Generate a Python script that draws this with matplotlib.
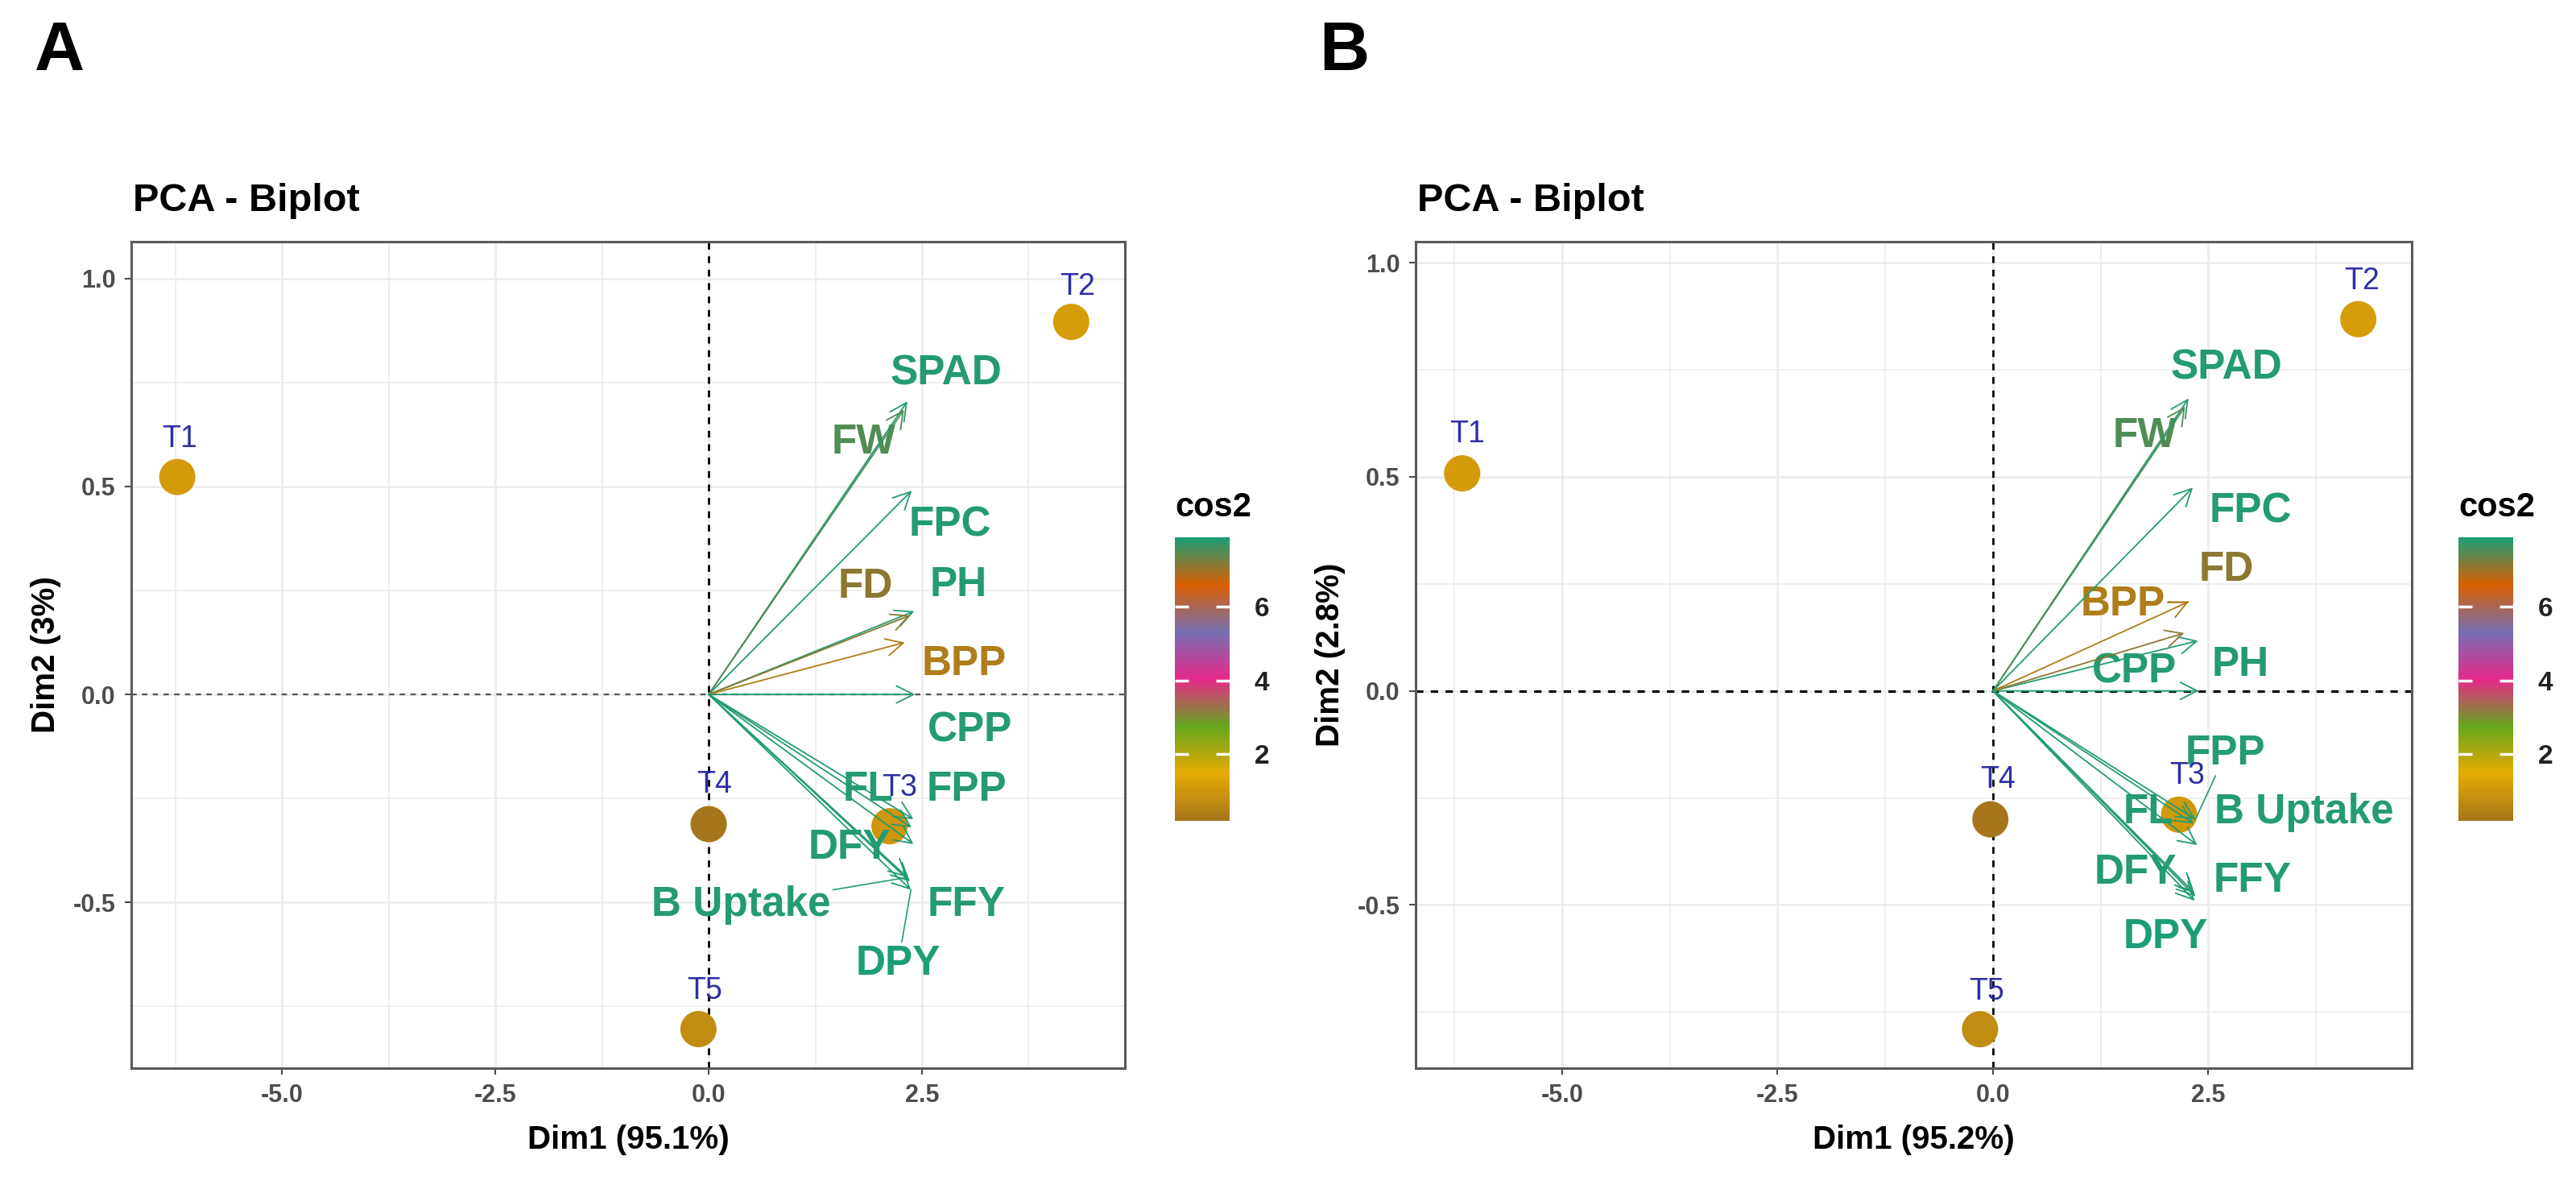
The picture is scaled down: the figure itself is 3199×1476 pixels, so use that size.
import numpy as np
import matplotlib
matplotlib.use('Agg')
import matplotlib.pyplot as plt
from matplotlib.colors import LinearSegmentedColormap, Normalize
from matplotlib.cm import ScalarMappable
from matplotlib.ticker import MultipleLocator

plt.rcParams['font.family'] = ['Liberation Sans', 'DejaVu Sans']

W, H = 3199, 1476

ind_names = ['T1', 'T2', 'T3', 'T4', 'T5']
var_names = ['SPAD', 'FW', 'FPC', 'PH', 'FD', 'BPP', 'CPP',
             'FPP', 'FL', 'DFY', 'FFY', 'B Uptake', 'DPY']

# ---- panel A ----
ind_x_a = [-6.23, 4.25, 2.12, 0.0, -0.12]
ind_y_a = [0.523, 0.896, -0.317, -0.312, -0.805]
ind_cos2_a = [1.1, 1.15, 1.0, 0.2, 0.75]
ind_lx_a = [-6.20, 4.32, 2.24, 0.07, -0.05]
ind_ly_a = [0.615, 0.98, -0.225, -0.217, -0.713]

var_x_a = [2.33, 2.29, 2.38, 2.41, 2.36, 2.30, 2.42, 2.40, 2.38, 2.40, 2.36, 2.33, 2.37]
var_y_a = [0.705, 0.685, 0.49, 0.20, 0.19, 0.125, 0.0, -0.30, -0.32, -0.36, -0.45, -0.44, -0.47]
var_cos2_a = [7.8, 7.5, 7.8, 7.8, 7.12, 0.4, 7.8, 7.8, 7.8, 7.8, 7.8, 7.8, 7.87]
lab_x_a = [2.78, 1.82, 2.83, 2.93, 1.84, 2.99, 3.06, 3.02, 1.87, 1.65, 3.02, 0.38, 2.22]
lab_y_a = [0.772, 0.606, 0.407, 0.262, 0.259, 0.073, -0.088, -0.23, -0.23, -0.37, -0.507, -0.507, -0.648]
seg_a = ['B Uptake', 'DPY']

# ---- panel B ----
ind_x_b = [-6.16, 4.24, 2.16, -0.03, -0.15]
ind_y_b = [0.508, 0.868, -0.289, -0.30, -0.79]
ind_cos2_b = [1.1, 1.15, 1.05, 0.2, 0.75]
ind_lx_b = [-6.10, 4.28, 2.25, 0.06, -0.07]
ind_ly_b = [0.60, 0.957, -0.198, -0.207, -0.702]

var_x_b = [2.27, 2.23, 2.32, 2.38, 2.22, 2.27, 2.39, 2.35, 2.33, 2.33, 2.35, 2.37, 2.34]
var_y_b = [0.683, 0.664, 0.475, 0.117, 0.135, 0.208, 0.0, -0.30, -0.31, -0.47, -0.48, -0.36, -0.49]
var_cos2_b = [7.8, 7.5, 7.8, 7.8, 7.12, 0.4, 7.8, 7.8, 7.8, 7.8, 7.8, 7.8, 7.87]
lab_x_b = [2.71, 1.76, 2.99, 2.87, 2.71, 1.51, 1.64, 2.70, 1.80, 1.65, 3.01, 3.61, 2.00]
lab_y_b = [0.753, 0.594, 0.419, 0.06, 0.283, 0.202, 0.045, -0.147, -0.283, -0.425, -0.443, -0.283, -0.575]
seg_b = ['BPP', 'FPP', 'DFY']

palette = ['#A6761D', '#E6AB02', '#66A61E', '#E7298A', '#7570B3', '#D95F02', '#1B9E77']
cmap = LinearSegmentedColormap.from_list('dark2r', palette)


def px_rect(l, t, r, b):
    return [l / W, 1 - b / H, (r - l) / W, (b - t) / H]


def draw_panel(fig, letter, axbox, cbox, xlim, ylim, hdash,
               ind_x, ind_y, ind_cos2, ind_lx, ind_ly,
               var_x, var_y, var_cos2, lab_x, lab_y, segs,
               xlab, ylab):
    ax = fig.add_axes(px_rect(*axbox))
    ax.set_xlim(xlim)
    ax.set_ylim(ylim)
    ax.xaxis.set_major_locator(MultipleLocator(2.5))
    ax.xaxis.set_minor_locator(MultipleLocator(1.25))
    ax.yaxis.set_major_locator(MultipleLocator(0.5))
    ax.yaxis.set_minor_locator(MultipleLocator(0.25))
    ax.grid(which='major', color='#EBEBEB', lw=1.8)
    ax.grid(which='minor', color='#EBEBEB', lw=1.1)
    ax.set_axisbelow(True)
    for s in ax.spines.values():
        s.set_color('#5A5A5A')
        s.set_linewidth(2.2)
    ax.tick_params(which='major', length=6, width=1.5, color='#4D4D4D',
                   labelsize=22, labelcolor='#4D4D4D', pad=8)
    ax.tick_params(which='minor', length=0)
    ax.xaxis.set_major_formatter(lambda v, p: f'{v:.1f}')
    ax.yaxis.set_major_formatter(lambda v, p: f'{v:.1f}')
    for t in ax.get_xticklabels() + ax.get_yticklabels():
        t.set_fontweight('bold')

    ax.axvline(0, color='black', lw=2, ls=(0, (3, 3)), zorder=1.5)
    ax.axhline(0, color=hdash[0], lw=hdash[1], ls=(0, (3, 3)), zorder=1.5)

    allc = list(ind_cos2) + list(var_cos2)
    norm = Normalize(min(allc), max(allc))

    ax.scatter(ind_x, ind_y, s=1050, c=ind_cos2, cmap=cmap, norm=norm,
               edgecolors='none', zorder=3)
    for name, lx, ly in zip(ind_names, ind_lx, ind_ly):
        ax.text(lx, ly, name, color='#2E2EA8', fontsize=27,
                ha='center', va='center', zorder=7)

    for name, vx, vy, c2, lx, ly in zip(var_names, var_x, var_y, var_cos2, lab_x, lab_y):
        col = cmap(norm(c2))
        ax.annotate('', xy=(vx, vy), xytext=(0, 0),
                    arrowprops=dict(arrowstyle='->', color=col, lw=1.3,
                                    mutation_scale=38, shrinkA=0, shrinkB=0),
                    zorder=5)
        if name in segs:
            ax.annotate(name, xy=(vx, vy), xytext=(lx, ly), color=col,
                        fontsize=37, fontweight='bold', ha='center', va='center',
                        arrowprops=dict(arrowstyle='-', color=col, lw=1.2,
                                        shrinkA=0, shrinkB=0), zorder=4)
        else:
            ax.text(lx, ly, name, color=col, fontsize=37, fontweight='bold',
                    ha='center', va='center', zorder=4)

    l, t, r, b = axbox
    fig.text((l - 120) / W, 1 - 65 / H, letter, fontsize=62, fontweight='bold',
             ha='left', va='center')
    fig.text((l + 2) / W, 1 - 249 / H, 'PCA - Biplot', fontsize=35,
             fontweight='bold', ha='left', va='center')
    fig.text((l + r) / 2 / W, 1 - 1415 / H, xlab, fontsize=29,
             fontweight='bold', ha='center', va='center')
    fig.text((l - 106) / W, 1 - (t + b) / 2 / H, ylab, fontsize=29,
             fontweight='bold', ha='center', va='center', rotation=90)

    cax = fig.add_axes(px_rect(*cbox))
    cb = fig.colorbar(ScalarMappable(norm=norm, cmap=cmap), cax=cax, ticks=[2, 4, 6])
    cb.outline.set_visible(False)
    cax.tick_params(which='both', direction='in', color='white', length=12,
                    width=2.5, left=True, right=True, labelsize=24, pad=22)
    cax.minorticks_off()
    for tl in cax.get_yticklabels():
        tl.set_fontweight('bold')
        tl.set_color('#222222')
    fig.text(cbox[0] / W, 1 - 630 / H, 'cos2', fontsize=30, fontweight='bold',
             ha='left', va='center')
    return ax


fig = plt.figure(figsize=(W / 100, H / 100), dpi=100)

draw_panel(fig, 'A', (163, 300, 1397, 1326), (1459, 667, 1527, 1019),
           (-6.77, 4.88), (-0.899, 1.089), ('#555555', 1.6),
           ind_x_a, ind_y_a, ind_cos2_a, ind_lx_a, ind_ly_a,
           var_x_a, var_y_a, var_cos2_a, lab_x_a, lab_y_a, seg_a,
           'Dim1 (95.1%)', 'Dim2 (3%)')

draw_panel(fig, 'B', (1758, 300, 2995, 1326), (3053, 667, 3121, 1019),
           (-6.70, 4.86), (-0.881, 1.049), ('black', 2.2),
           ind_x_b, ind_y_b, ind_cos2_b, ind_lx_b, ind_ly_b,
           var_x_b, var_y_b, var_cos2_b, lab_x_b, lab_y_b, seg_b,
           'Dim1 (95.2%)', 'Dim2 (2.8%)')

fig.savefig('out.png', dpi=100)
